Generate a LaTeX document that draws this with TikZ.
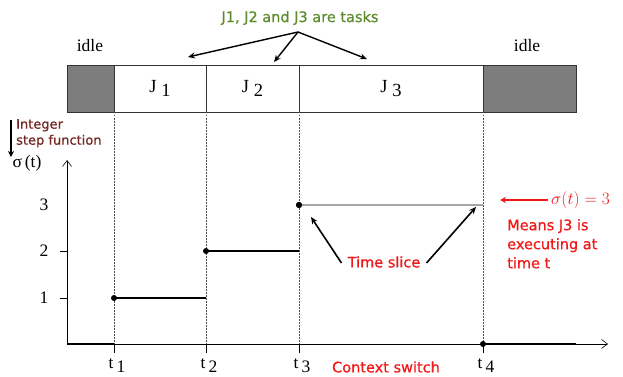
\documentclass[tikz,border=0pt]{standalone}
\usepackage{fontspec}
\setmainfont{Liberation Serif}
\newfontfamily\notefont[FakeBold=0.7]{DejaVu Sans}
\usetikzlibrary{arrows.meta}
\definecolor{notegreen}{RGB}{92,140,44}
\definecolor{notered}{RGB}{240,24,24}
\definecolor{notebrown}{RGB}{115,40,35}
\definecolor{idlegray}{RGB}{125,125,125}
\begin{document}
\begin{tikzpicture}[x=1pt,y=-1pt,
  serif/.style={font=\fontsize{17.5}{20}\selectfont, inner sep=0pt},
  note/.style={font=\notefont\fontsize{14.5}{19}\selectfont, inner sep=0pt},
  cell/.style={draw=black!80, line width=0.9pt, minimum height=47pt, inner sep=0pt,
               font=\fontsize{18.5}{20}\selectfont},
  guide/.style={draw=black!70, line width=0.5pt, dash pattern=on 1.5pt off 1.5pt},
  axis/.style={line width=0.7pt, -{Straight Barb[length=6pt,width=9pt,line width=0.6pt]}},
  stepline/.style={line width=1.6pt},
  dot/.style={circle, fill=black, inner sep=0pt, minimum size=6pt},
  pointer/.style={line width=1.6pt, -{Stealth[length=7pt,width=6pt]}},
]
\useasboundingbox (0,0) rectangle (623,377);

% task bar
\node[cell, fill=idlegray, minimum width=47pt] (idleA) at (90.5,88.5) {};
\node[cell, minimum width=92pt] (J1) at (160,88.5) {J\hspace{5pt}\raisebox{-4pt}{1}};
\node[cell, minimum width=93pt] (J2) at (252.5,88.5) {J\hspace{5pt}\raisebox{-4pt}{2}};
\node[cell, minimum width=184pt] (J3) at (391,88.5) {J\hspace{5pt}\raisebox{-4pt}{3}};
\node[cell, fill=idlegray, minimum width=93pt] (idleB) at (529.5,88.5) {};
\node[serif] (idleAt) at (90,46) {idle};
\node[serif] (idleBt) at (527,46) {idle};

% task annotation
\node[note, text=notegreen] (tasks) at (300,18) {J1, J2 and J3 are tasks};
\coordinate (fork) at (298,32);
\coordinate (toJ1) at (188,57);
\coordinate (toJ2) at (274,62);
\coordinate (toJ3) at (367,59);
\draw[pointer, line width=1.4pt] (fork) -- (toJ1);
\draw[pointer, line width=1.4pt] (fork) -- (toJ2);
\draw[pointer, line width=1.4pt] (fork) -- (toJ3);

% axes
\coordinate (O) at (67,344);
\coordinate (ytop) at (67,160);
\coordinate (xend) at (608,344);
\draw[axis] (O) -- (ytop);
\draw[axis] (O) -- (xend);

% y ticks and values
\draw[line width=0.5pt] (60,298) -- (67,298);
\draw[line width=0.5pt] (60,251) -- (67,251);
\node[serif] (v1) at (44,298) {1};
\node[serif] (v2) at (44,251) {2};
\node[serif] (v3) at (44,205) {3};

% switching instants
\foreach \c/\x in {t1/114, t2/206, t3/299, t4/483} {
  \coordinate (\c) at (\x,344);
  \draw[guide] (\x,112) -- (\c);
  \draw[line width=0.6pt] (\c) -- ++(0,9);
}
\node[serif] (lt1) at (117,366) {t\,\raisebox{-4pt}{1}};
\node[serif] (lt2) at (209,366) {t\,\raisebox{-4pt}{2}};
\node[serif] (lt3) at (302,366) {t\,\raisebox{-4pt}{3}};
\node[serif] (lt4) at (486,366) {t\,\raisebox{-4pt}{4}};

% step function
\draw[stepline] (O) -- (t1);
\draw[stepline] (t4) -- (576,344);
\node[dot] (p1) at (114,298) {};
\node[dot] (p2) at (206,251) {};
\node[dot] (p3) at (299,205) {};
\node[dot] (p4) at (t4) {};
\coordinate (e1) at (206,298);
\coordinate (e2) at (299,251);
\coordinate (e3) at (483,205);
\draw[stepline] (p1.center) -- (e1);
\draw[stepline] (p2.center) -- (e2);
\draw[line width=1.4pt, black!35] (p3.center) -- (e3);
\node[dot] at (p3) {};

% time slice annotation
\node[note, text=notered] (slice) at (384,262) {Time slice};
\coordinate (sliceL) at (311,217);
\coordinate (sliceR) at (476,207);
\draw[pointer] ([xshift=-6pt,yshift=-1pt]slice.west) -- (sliceL);
\draw[pointer] ([xshift=6pt,yshift=-1pt]slice.east) -- (sliceR);

% value annotation
\node[text=notered, anchor=west, inner sep=0pt, font=\fontsize{17}{20}\selectfont] (sig) at (551,200) {$\sigma(t) = 3$};
\coordinate (sigtip) at (500,200);
\draw[notered, line width=1.6pt, -{Stealth[length=6pt,width=6pt]}] ([xshift=-3pt]sig.west) -- (sigtip);
\node[note, text=notered, anchor=north west, align=left] (means) at (507,219) {Means J3 is\\executing at\\time t};

% context switch label
\node[note, text=notered] (ctx) at (386,367) {Context switch};

% step function caption
\node[note, text=notebrown, anchor=north west, align=left, font=\notefont\fontsize{13}{16}\selectfont] (intg) at (16,119) {Integer\\step function};
\coordinate (capTop) at (11,120);
\coordinate (capTip) at (11,157);
\draw[line width=1.6pt, -{Stealth[length=6pt,width=6pt]}] (capTop) -- (capTip);
\node[serif] (sigma) at (27,163) {σ\,(t)};
\end{tikzpicture}
\end{document}
